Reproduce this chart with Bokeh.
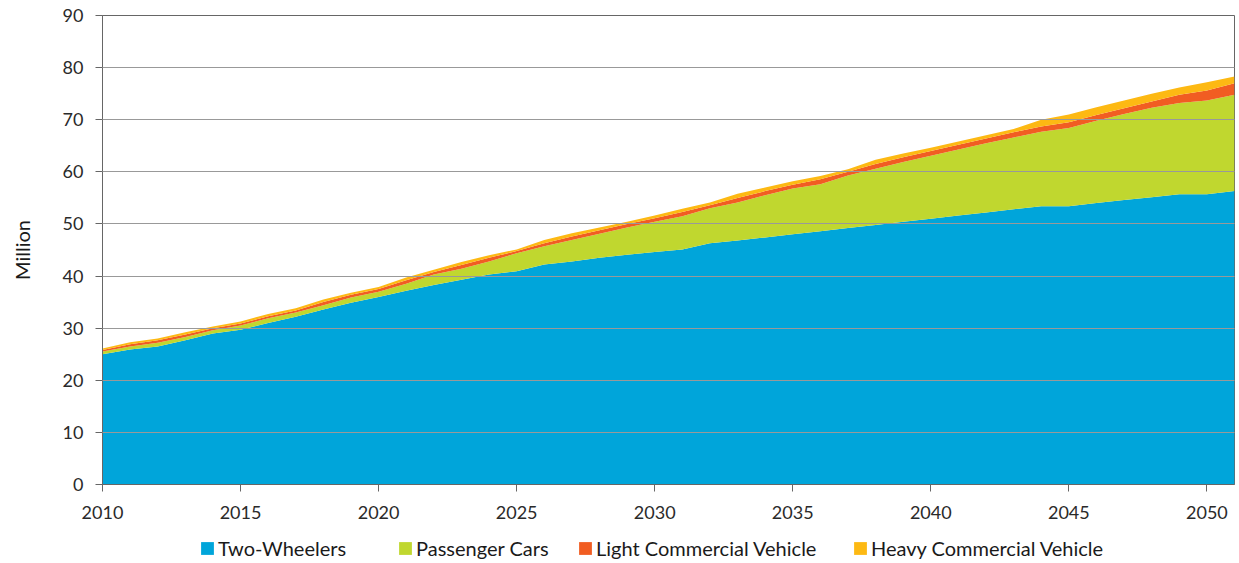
from bokeh.plotting import figure
from bokeh.layouts import column
from bokeh.models import Range1d, Legend, LegendItem, SingleIntervalTicker, ColumnDataSource
from bokeh.embed import file_html
from bokeh.resources import INLINE

years = list(range(2010, 2052))

two_wheelers = [25.0, 25.9, 26.5, 27.7, 29.0, 29.7, 31.0, 32.2, 33.6, 34.9,
                36.0, 37.2, 38.3, 39.3, 40.3, 40.9, 42.2, 42.8, 43.5, 44.1,
                44.6, 45.1, 46.3, 46.8, 47.4, 48.0, 48.6, 49.2, 49.8, 50.4,
                51.0, 51.6, 52.2, 52.8, 53.4, 53.4, 54.0, 54.6, 55.1, 55.7,
                55.7, 56.3]
passenger_cars = [0.5, 0.6, 0.7, 0.6, 0.6, 0.8, 0.9, 0.8, 0.8, 1.0,
                  1.0, 1.3, 2.0, 2.1, 2.5, 3.5, 3.5, 4.1, 4.6, 5.2,
                  5.8, 6.4, 6.7, 7.3, 8.1, 8.8, 9.0, 10.1, 10.8, 11.5,
                  12.1, 12.7, 13.3, 13.8, 14.3, 15.0, 15.8, 16.5, 17.2, 17.5,
                  18.0, 18.5]
light_commercial = [0.3, 0.4, 0.5, 0.5, 0.4, 0.4, 0.4, 0.4, 0.6, 0.5,
                    0.5, 0.7, 0.5, 0.7, 0.7, 0.4, 0.6, 0.7, 0.7, 0.7,
                    0.7, 0.8, 0.6, 0.9, 0.8, 0.7, 1.0, 0.7, 0.9, 0.9,
                    0.9, 0.9, 0.9, 1.0, 1.0, 1.1, 1.1, 1.1, 1.2, 1.6,
                    1.9, 2.2]
heavy_commercial = [0.3, 0.4, 0.3, 0.4, 0.3, 0.4, 0.4, 0.4, 0.5, 0.4,
                    0.4, 0.5, 0.4, 0.6, 0.5, 0.3, 0.6, 0.6, 0.5, 0.4,
                    0.5, 0.6, 0.5, 0.8, 0.7, 0.7, 0.6, 0.5, 0.8, 0.7,
                    0.6, 0.6, 0.6, 0.6, 1.3, 1.5, 1.5, 1.5, 1.5, 1.4,
                    1.6, 1.3]

series_names = ["Two-Wheelers", "Passenger Cars", "Light Commercial Vehicle", "Heavy Commercial Vehicle"]
colors = ["#00A5DA", "#C0D72F", "#F15D22", "#FDB913"]
y_ticks = [0, 10, 20, 30, 40, 50, 60, 70, 80, 90]

source = ColumnDataSource(dict(
    year=years,
    tw=two_wheelers,
    pc=passenger_cars,
    lcv=light_commercial,
    hcv=heavy_commercial,
))
stack_cols = ["tw", "pc", "lcv", "hcv"]

FONT = "Lato"

p = figure(frame_width=1132, frame_height=469,
           x_range=Range1d(2010, 2051), y_range=Range1d(0, 90),
           output_backend="svg", toolbar_location=None,
           min_border_left=102, min_border_top=15, min_border_right=3, min_border_bottom=0)

renderers = p.varea_stack(stack_cols, x="year", source=source, color=colors)

p.background_fill_color = "white"
p.border_fill_color = "white"
p.outline_line_color = "#666666"
p.outline_line_width = 1

p.xgrid.grid_line_color = None
p.ygrid.grid_line_color = "#999999"
p.ygrid.grid_line_width = 1
p.ygrid.level = "overlay"
p.ygrid.ticker = y_ticks

p.xaxis.ticker = SingleIntervalTicker(interval=5)
p.xaxis.minor_tick_line_color = None
p.yaxis.ticker = y_ticks
p.yaxis.minor_tick_line_color = None

for ax in (p.xaxis[0], p.yaxis[0]):
    ax.axis_line_color = "#666666"
    ax.major_tick_line_color = "#666666"
    ax.major_tick_in = 0
    ax.major_tick_out = 7
    ax.major_label_text_font = FONT
    ax.major_label_text_font_size = "18px"
    ax.major_label_text_color = "#2a2a2a"

p.xaxis.major_label_standoff = 14
p.yaxis.major_label_standoff = 12
p.yaxis.axis_label = "Million"
p.yaxis.axis_label_text_font = FONT
p.yaxis.axis_label_text_font_size = "20px"
p.yaxis.axis_label_text_font_style = "normal"
p.yaxis.axis_label_text_color = "#1a1a1a"
p.yaxis.axis_label_standoff = 26

# Legend strip: separate small figure below the chart (its ranges keep the areas out of view)
lf = figure(width=1239, height=39, x_range=Range1d(0, 1), y_range=Range1d(-2, -1),
            output_backend="svg", toolbar_location=None, min_border=0)
lf.axis.visible = False
lf.grid.grid_line_color = None
lf.outline_line_color = None
lf.background_fill_color = "white"
lf.border_fill_color = "white"

legend_renderers = lf.varea_stack(stack_cols, x="year", source=source, color=colors)

legend_x = [97, 295, 475, 750]
for name, r, lx in zip(series_names, legend_renderers, legend_x):
    lg = Legend(items=[LegendItem(label=name, renderers=[r])], location=(lx, 0),
                label_text_font=FONT, label_text_font_size="20px", label_text_color="#1a1a1a",
                glyph_width=16, glyph_height=16, label_standoff=3,
                padding=0, margin=0, border_line_alpha=0, background_fill_alpha=0)
    lf.add_layout(lg, "center")

layout = column(p, lf, spacing=0)
open("out.html", "w").write(file_html(layout, INLINE))
